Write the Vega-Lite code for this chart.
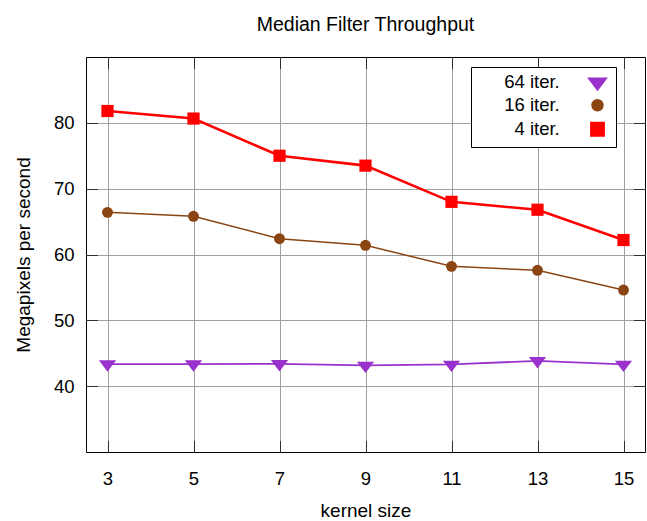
{
  "$schema": "https://vega.github.io/schema/vega-lite/v6.json",
  "width": 559,
  "height": 395,
  "autosize": {"type": "none"},
  "padding": {"left": 86, "top": 57, "right": 2, "bottom": 69},
  "background": "white",
  "title": {
    "text": "Median Filter Throughput",
    "font": "Liberation Sans",
    "fontSize": 19.5,
    "fontWeight": "normal",
    "color": "black",
    "anchor": "middle",
    "frame": "group",
    "baseline": "alphabetic",
    "offset": 6
  },
  "data": {
    "values": [
      {"kernel": 3, "series": "4 iter.", "mpps": 81.8},
      {"kernel": 5, "series": "4 iter.", "mpps": 80.65},
      {"kernel": 7, "series": "4 iter.", "mpps": 75.0},
      {"kernel": 9, "series": "4 iter.", "mpps": 73.5},
      {"kernel": 11, "series": "4 iter.", "mpps": 68.0},
      {"kernel": 13, "series": "4 iter.", "mpps": 66.8},
      {"kernel": 15, "series": "4 iter.", "mpps": 62.2},
      {"kernel": 3, "series": "16 iter.", "mpps": 66.4},
      {"kernel": 5, "series": "16 iter.", "mpps": 65.8},
      {"kernel": 7, "series": "16 iter.", "mpps": 62.4},
      {"kernel": 9, "series": "16 iter.", "mpps": 61.4},
      {"kernel": 11, "series": "16 iter.", "mpps": 58.2},
      {"kernel": 13, "series": "16 iter.", "mpps": 57.6},
      {"kernel": 15, "series": "16 iter.", "mpps": 54.6},
      {"kernel": 3, "series": "64 iter.", "mpps": 43.35},
      {"kernel": 5, "series": "64 iter.", "mpps": 43.35},
      {"kernel": 7, "series": "64 iter.", "mpps": 43.4},
      {"kernel": 9, "series": "64 iter.", "mpps": 43.15},
      {"kernel": 11, "series": "64 iter.", "mpps": 43.3},
      {"kernel": 13, "series": "64 iter.", "mpps": 43.85},
      {"kernel": 15, "series": "64 iter.", "mpps": 43.3}
    ]
  },
  "layer": [
    {
      "mark": {"type": "line"},
      "encoding": {
        "x": {
          "field": "kernel",
          "type": "quantitative",
          "scale": {"domain": [2.5, 15.5], "nice": false, "zero": false},
          "axis": {
            "orient": "bottom",
            "values": [3, 5, 7, 9, 11, 13, 15],
            "grid": true,
            "gridColor": "#a0a0a0",
            "gridWidth": 1,
            "gridOpacity": 1,
            "domain": false,
            "ticks": true,
            "tickSize": -11.5,
            "tickColor": "#303030",
            "tickWidth": 1,
            "labelPadding": 29,
            "labelFont": "Liberation Sans",
            "labelFontSize": 18.5,
            "labelColor": "black",
            "labelFlush": false,
            "labelOverlap": false,
            "title": "kernel size",
            "titleFont": "Liberation Sans",
            "titleFontSize": 19,
            "titleFontWeight": "normal",
            "titleColor": "black",
            "titleY": 64,
            "titleBaseline": "alphabetic"
          }
        },
        "y": {
          "field": "mpps",
          "type": "quantitative",
          "scale": {"domain": [30, 90], "nice": false, "zero": false},
          "axis": {
            "orient": "left",
            "values": [40, 50, 60, 70, 80],
            "grid": true,
            "gridColor": "#a0a0a0",
            "gridWidth": 1,
            "gridOpacity": 1,
            "domain": false,
            "ticks": true,
            "tickSize": -11.5,
            "tickColor": "#303030",
            "tickWidth": 1,
            "labelPadding": 23.5,
            "labelFont": "Liberation Sans",
            "labelFontSize": 18.5,
            "labelColor": "black",
            "labelFlush": false,
            "labelOverlap": false,
            "title": "Megapixels per second",
            "titleFont": "Liberation Sans",
            "titleFontSize": 19,
            "titleFontWeight": "normal",
            "titleColor": "black",
            "titleX": -57,
            "titleBaseline": "alphabetic"
          }
        },
        "color": {
          "field": "series",
          "type": "nominal",
          "scale": {"domain": ["64 iter.", "16 iter.", "4 iter."], "range": ["#9932cc", "#8b4513", "#ff0000"]}
        },
        "strokeWidth": {
          "field": "series",
          "type": "nominal",
          "scale": {"type": "ordinal", "domain": ["64 iter.", "16 iter.", "4 iter."], "range": [1.8, 1.5, 2.6]},
          "legend": null
        }
      }
    },
    {
      "mark": {"type": "point", "filled": true, "opacity": 1},
      "encoding": {
        "x": {
          "field": "kernel",
          "type": "quantitative",
          "scale": {"domain": [2.5, 15.5], "nice": false, "zero": false},
          "axis": {
            "orient": "top",
            "values": [3, 5, 7, 9, 11, 13, 15],
            "grid": false,
            "domain": false,
            "labels": false,
            "ticks": true,
            "tickSize": -11.5,
            "tickColor": "#303030",
            "tickWidth": 1,
            "title": null
          }
        },
        "y": {
          "field": "mpps",
          "type": "quantitative",
          "scale": {"domain": [30, 90], "nice": false, "zero": false},
          "axis": {
            "orient": "right",
            "values": [40, 50, 60, 70, 80],
            "grid": false,
            "domain": false,
            "labels": false,
            "ticks": true,
            "tickSize": -11.5,
            "tickColor": "#303030",
            "tickWidth": 1,
            "title": null
          }
        },
        "color": {
          "field": "series",
          "type": "nominal",
          "scale": {"domain": ["64 iter.", "16 iter.", "4 iter."], "range": ["#9932cc", "#8b4513", "#ff0000"]},
          "legend": {
            "title": null,
            "orient": "none",
            "legendX": 385,
            "legendY": 10,
            "direction": "vertical",
            "padding": 6,
            "rowPadding": 2,
            "strokeColor": "black",
            "fillColor": "white",
            "symbolStrokeWidth": 1.5,
            "symbolOffset": 111.25,
            "labelOffset": -47,
            "labelAlign": "right",
            "labelBaseline": "middle",
            "labelFont": "Liberation Sans",
            "labelFontSize": 18.5,
            "labelColor": "black",
            "labelLimit": 200,
            "encode": {
              "labels": {
                "align": {"value": "right"}
              }
            }
          }
        },
        "shape": {
          "field": "series",
          "type": "nominal",
          "scale": {"domain": ["64 iter.", "16 iter.", "4 iter."], "range": ["M-1.075,-0.475H1.075L0,0.95Z", "circle", "square"]},
          "legend": null
        },
        "size": {
          "field": "series",
          "type": "nominal",
          "scale": {"type": "ordinal", "domain": ["64 iter.", "16 iter.", "4 iter."], "range": [256, 119, 149]},
          "legend": null
        }
      }
    }
  ],
  "resolve": {"axis": {"x": "independent", "y": "independent"}},
  "config": {
    "view": {"stroke": "black", "strokeWidth": 1}
  }
}
